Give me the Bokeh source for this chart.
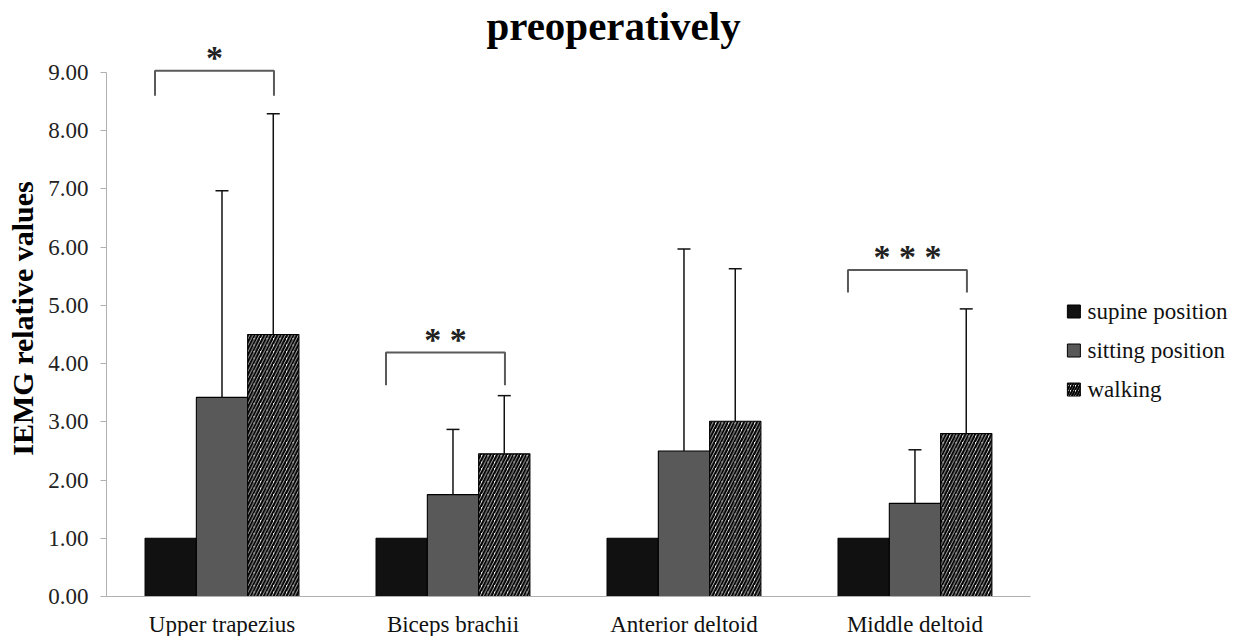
import numpy as np
from bokeh.plotting import figure
from bokeh.models import (ColumnDataSource, Range1d, FixedTicker, NumeralTickFormatter,
                          Whisker, TeeHead, Label)
from bokeh.transform import dodge
from bokeh.core.properties import value
from bokeh.embed import file_html
from bokeh.resources import INLINE

# ---------------- data ----------------
categories = ["Upper trapezius", "Biceps brachii", "Anterior deltoid", "Middle deltoid"]
series_names = ["supine position", "sitting position", "walking"]
supine = [1.00, 1.00, 1.00, 1.00]
sitting = [3.42, 1.75, 2.50, 1.60]
walking = [4.50, 2.45, 3.01, 2.80]
sitting_sd = [3.55, 1.12, 3.47, 0.92]
walking_sd = [3.79, 1.00, 2.62, 2.14]
y_ticks = [0, 1, 2, 3, 4, 5, 6, 7, 8, 9]

sig_categories = ["Upper trapezius", "Biceps brachii", "Middle deltoid"]
sig_top = [9.03, 4.19, 5.61]
sig_bottom = [8.60, 3.63, 5.22]
sig_marks = ["*", "* *", "* * *"]

title_text = "preoperatively"
y_label = "IEMG relative values"

# ---------------- styling / layout constants ----------------
FONT = "Liberation Serif"
BAR_W = 0.222
W, H = 1236, 636
LEFT = 106
SERIES_FILL = ["#111111", "#595959", "white"]
SERIES_HATCH = [" ", " ", "/"]
LEG_X = 4.188          # legend swatch centre (x data units, right of the axis)
LEG_TX = 4.247         # legend label start
LEG_Y0, LEG_DY = 4.895, 0.67

pos = np.arange(len(categories)) + 0.5
src = ColumnDataSource(dict(
    pos=pos,
    supine=supine,
    sitting=sitting,
    walking=walking,
    sitting_hi=np.array(sitting) + np.array(sitting_sd),
    walking_hi=np.array(walking) + np.array(walking_sd),
))

p = figure(width=W, height=H, x_range=Range1d(0, 4.892), y_range=Range1d(-0.687, 10.237),
           output_backend="svg", toolbar_location=None, title_location=None,
           min_border_left=LEFT, min_border_right=0, min_border_top=0, min_border_bottom=0)
p.outline_line_color = None
p.xgrid.visible = False
p.ygrid.visible = False
p.background_fill_color = "white"
p.border_fill_color = "white"

for col, off, fc, hp in zip(["supine", "sitting", "walking"], [-BAR_W, 0.0, BAR_W],
                            SERIES_FILL, SERIES_HATCH):
    p.vbar(x=dodge("pos", off), top=col, width=BAR_W, source=src,
           fill_color=fc, line_color="#000000", line_width=1.1,
           hatch_pattern=hp, hatch_color="black", hatch_scale=6.5, hatch_weight=2.3)

for lo, hi, off in (("sitting", "sitting_hi", 0.0), ("walking", "walking_hi", BAR_W)):
    w = Whisker(source=src, base=dodge("pos", off), lower=lo, upper=hi,
                dimension="height", line_color="#111111", line_width=1.5,
                upper_head=TeeHead(size=13, line_color="#111111", line_width=1.5),
                lower_head=None, level="overlay")
    p.add_layout(w)

# significance brackets
sig_pos = np.array([categories.index(c) for c in sig_categories]) + 0.5
left = sig_pos - 0.29
right = sig_pos + 0.225
xs = [[l, l, r, r] for l, r in zip(left, right)]
ys = [[b, t, t, b] for b, t in zip(sig_bottom, sig_top)]
p.multi_line(xs=xs, ys=ys, line_color="#5a5a5a", line_width=2)
p.text(x=(left + right) / 2, y=sig_top, text=sig_marks, text_align="center",
       text_baseline="middle", y_offset=-13,
       text_font=value(FONT), text_font_size=value("34px"), text_font_style="bold",
       text_color="#222222")

# legend (swatches + labels)
leg_y = LEG_Y0 - LEG_DY * np.arange(len(series_names))
leg_src = ColumnDataSource(dict(x=[LEG_X] * len(series_names), y=leg_y,
                                fill=SERIES_FILL, hatch=SERIES_HATCH))
p.scatter(x="x", y="y", source=leg_src, marker="square", size=13,
          fill_color="fill", line_color="#000000", line_width=1,
          hatch_pattern="hatch", hatch_color="black", hatch_scale=5, hatch_weight=2)
for yy, name in zip(leg_y, series_names):
    p.add_layout(Label(x=LEG_TX, y=yy, text=name, text_align="left",
                       text_baseline="middle", text_font=FONT, text_font_size="23px",
                       text_color="#111111"))

# title
p.add_layout(Label(x=2.195, y=9.80, text=title_text, text_align="center",
                   text_baseline="alphabetic", text_font=FONT, text_font_style="bold",
                   text_font_size="41px", text_color="#000000"))

# axes
p.xaxis.fixed_location = 0
p.xaxis.ticker = FixedTicker(ticks=list(pos))
p.xaxis.major_label_overrides = {float(x): c for x, c in zip(pos, categories)}
p.xaxis.bounds = (0, 4)
p.xaxis.major_tick_out = 0
p.xaxis.major_tick_in = 0
p.xaxis.minor_tick_out = 0
p.xaxis.minor_tick_in = 0
p.xaxis.major_label_standoff = 15
p.xaxis.axis_line_color = "#b0b0b0"
p.xaxis.major_label_text_font = FONT
p.xaxis.major_label_text_font_size = "23px"
p.xaxis.major_label_text_color = "#111111"

p.yaxis.ticker = FixedTicker(ticks=y_ticks)
p.yaxis.formatter = NumeralTickFormatter(format="0.00")
p.yaxis.bounds = (0, 9)
p.yaxis.major_tick_out = 6
p.yaxis.major_tick_in = 0
p.yaxis.minor_tick_out = 0
p.yaxis.minor_tick_in = 0
p.yaxis.major_tick_line_color = "#b0b0b0"
p.yaxis.axis_line_color = "#b0b0b0"
p.yaxis.major_label_standoff = 12
p.yaxis.major_label_text_font = FONT
p.yaxis.major_label_text_font_size = "23px"
p.yaxis.major_label_text_color = "#222222"
p.yaxis.axis_label = y_label
p.yaxis.axis_label_text_font = FONT
p.yaxis.axis_label_text_font_style = "bold"
p.yaxis.axis_label_text_font_size = "30px"
p.yaxis.axis_label_text_color = "#000000"
p.yaxis.axis_label_standoff = 6

open("out.html", "w").write(file_html(p, INLINE))
